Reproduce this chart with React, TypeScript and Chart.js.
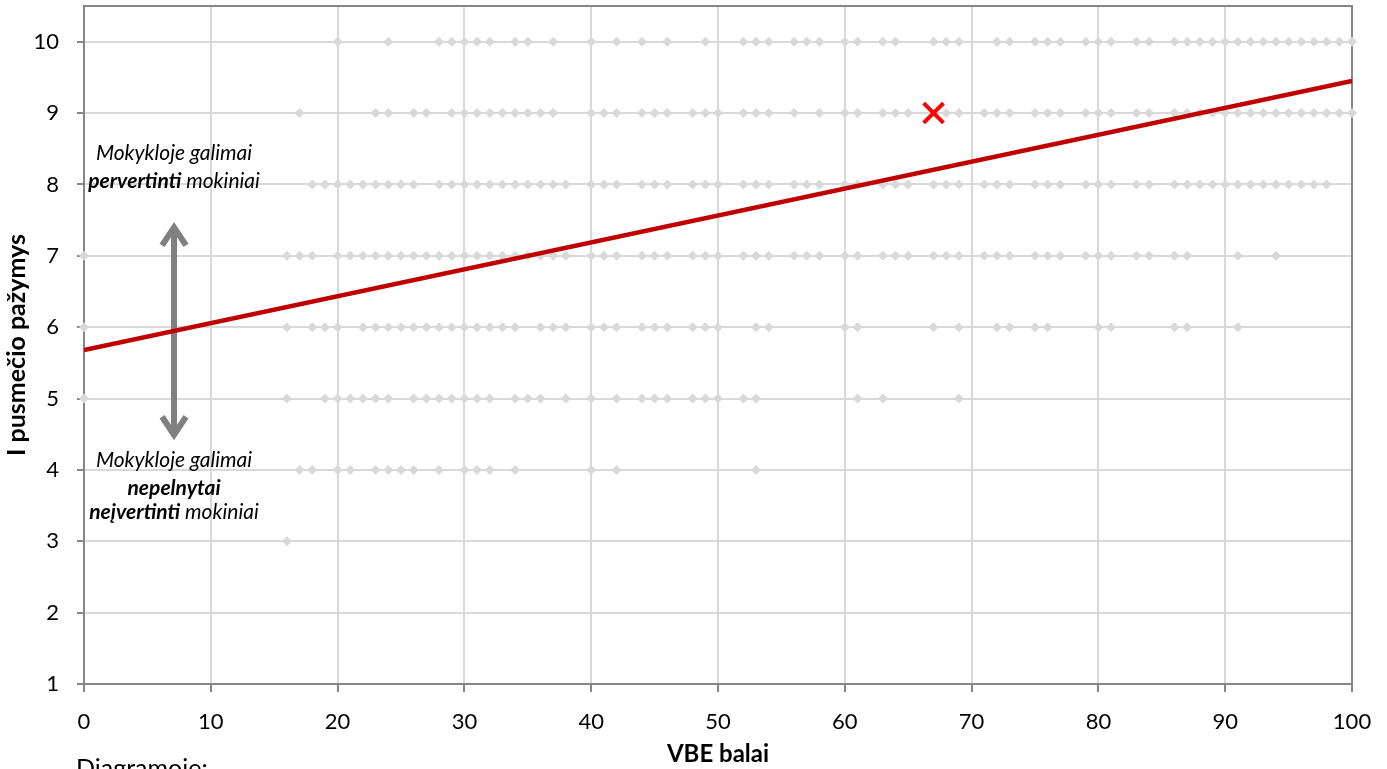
import { useEffect, useRef } from "react";
import { Chart, registerables } from "chart.js";

Chart.register(...registerables);

// ---- data ----
const xTickValues = [0, 10, 20, 30, 40, 50, 60, 70, 80, 90, 100];
const yTickValues = [1, 2, 3, 4, 5, 6, 7, 8, 9, 10];

const gradeLevels = [10, 9, 8, 7, 6, 5, 4, 3];
const scoresGrade10 = [20, 24, 28, 29, 30, 31, 32, 34, 35, 37, 40, 42, 44, 46, 49, 52, 53, 54, 56, 57, 58, 60, 61, 63, 64, 67, 68, 69, 72, 73, 75, 76, 77, 79, 80, 81, 83, 84, 86, 87, 88, 89, 90, 91, 92, 93, 94, 95, 96, 97, 98, 99, 100];
const scoresGrade9 = [17, 23, 24, 26, 27, 29, 30, 31, 32, 33, 34, 35, 36, 37, 40, 41, 42, 44, 45, 46, 48, 49, 50, 52, 53, 54, 56, 58, 60, 61, 63, 64, 65, 68, 69, 71, 72, 73, 75, 76, 77, 79, 80, 81, 83, 84, 86, 87, 88, 89, 90, 91, 92, 93, 94, 95, 96, 97, 98, 99, 100];
const scoresGrade8 = [18, 19, 20, 21, 22, 23, 24, 25, 26, 28, 29, 30, 31, 32, 33, 34, 35, 36, 37, 38, 40, 41, 42, 44, 45, 46, 48, 49, 50, 52, 53, 54, 56, 57, 58, 60, 61, 63, 64, 65, 67, 68, 69, 71, 72, 73, 75, 76, 77, 79, 80, 81, 83, 84, 86, 87, 88, 89, 90, 91, 92, 93, 94, 95, 96, 97, 98];
const scoresGrade7 = [0, 16, 17, 18, 20, 21, 22, 23, 24, 25, 26, 27, 28, 29, 30, 31, 32, 33, 34, 35, 36, 37, 38, 40, 41, 42, 44, 45, 46, 48, 49, 50, 52, 53, 54, 56, 57, 58, 60, 61, 63, 64, 65, 67, 68, 69, 71, 72, 73, 75, 76, 77, 79, 80, 81, 83, 84, 86, 87, 91, 94];
const scoresGrade6 = [0, 16, 18, 19, 20, 22, 23, 24, 25, 26, 27, 28, 29, 30, 31, 32, 33, 34, 36, 37, 38, 40, 41, 42, 44, 45, 46, 48, 49, 50, 53, 54, 60, 61, 67, 69, 72, 73, 75, 76, 80, 81, 86, 87, 91];
const scoresGrade5 = [0, 16, 19, 20, 21, 22, 23, 24, 26, 27, 28, 29, 30, 31, 32, 34, 35, 36, 38, 40, 42, 44, 45, 46, 48, 49, 50, 52, 53, 61, 63, 69];
const scoresGrade4 = [17, 18, 20, 21, 23, 24, 25, 26, 28, 30, 31, 32, 34, 40, 42, 53];
const scoresGrade3 = [16];
const scoresByGrade = [scoresGrade10, scoresGrade9, scoresGrade8, scoresGrade7, scoresGrade6, scoresGrade5, scoresGrade4, scoresGrade3];

const trendX = [0, 100];
const trendY = [5.68, 9.45];

const markedX = [67];
const markedY = [9];

const arrowX = [7.1];
const arrowEnds = [7.44, 4.45];

const noteX = [7.1];
const noteY = [8.43, 8.05, 4.14, 3.75, 3.4];
const noteLines: { text: string; bold: boolean }[][] = [
  [{ text: "Mokykloje galimai", bold: false }],
  [{ text: "pervertinti", bold: true }, { text: " mokiniai", bold: false }],
  [{ text: "Mokykloje galimai", bold: false }],
  [{ text: "nepelnytai", bold: true }],
  [{ text: "neįvertinti", bold: true }, { text: " mokiniai", bold: false }],
];

const xTitle = "VBE balai";
const yTitle = "I pusmečio pažymys";
const footerText = "Diagramoje:";

const FONT = "Lato";

export default function App() {
  const ref = useRef<HTMLCanvasElement | null>(null);

  useEffect(() => {
    document.body.style.margin = "0";
    const canvas = ref.current;
    if (!canvas) return;

    const points: { x: number; y: number }[] = [];
    gradeLevels.forEach((g, i) => {
      scoresByGrade[i].forEach((s) => points.push({ x: s, y: g }));
    });

    const annotations = {
      id: "annotations",
      beforeDatasetsDraw(chart: any) {
        const { ctx, scales, chartArea } = chart;
        ctx.save();
        // plot-area frame (top and right edges)
        ctx.strokeStyle = "#868686";
        ctx.lineWidth = 2;
        ctx.beginPath();
        ctx.moveTo(chartArea.left, chartArea.top);
        ctx.lineTo(chartArea.right, chartArea.top);
        ctx.lineTo(chartArea.right, chartArea.bottom);
        ctx.stroke();

        const x = scales.x.getPixelForValue(arrowX[0]);
        const yTop = scales.y.getPixelForValue(arrowEnds[0]);
        const yBot = scales.y.getPixelForValue(arrowEnds[1]);
        ctx.strokeStyle = "#808080";
        ctx.lineWidth = 6;
        ctx.lineCap = "butt";
        ctx.lineJoin = "miter";
        ctx.beginPath();
        ctx.moveTo(x, yTop + 3);
        ctx.lineTo(x, yBot - 3);
        ctx.stroke();
        ctx.beginPath();
        ctx.moveTo(x - 12, yTop + 21);
        ctx.lineTo(x, yTop + 3);
        ctx.lineTo(x + 12, yTop + 21);
        ctx.stroke();
        ctx.beginPath();
        ctx.moveTo(x - 12, yBot - 21);
        ctx.lineTo(x, yBot - 3);
        ctx.lineTo(x + 12, yBot - 21);
        ctx.stroke();
        ctx.restore();
      },
      afterDraw(chart: any) {
        const { ctx, scales } = chart;
        const cx = scales.x.getPixelForValue(noteX[0]);
        ctx.save();
        ctx.fillStyle = "#000";
        ctx.textBaseline = "middle";
        ctx.textAlign = "left";
        noteLines.forEach((parts, i) => {
          const y = scales.y.getPixelForValue(noteY[i]);
          const fonts = parts.map((p) => `italic ${p.bold ? "bold " : ""}21px ${FONT}`);
          let total = 0;
          const widths = parts.map((p, j) => {
            ctx.font = fonts[j];
            const w = ctx.measureText(p.text).width;
            total += w;
            return w;
          });
          let x = cx - total / 2;
          parts.forEach((p, j) => {
            ctx.font = fonts[j];
            ctx.fillText(p.text, x, y);
            x += widths[j];
          });
        });
        ctx.font = `25px ${FONT}`;
        ctx.textBaseline = "alphabetic";
        ctx.fillText(footerText, 76, 777);
        ctx.restore();
      },
    };

    const chart = new Chart(canvas, {
      type: "scatter",
      data: {
        datasets: [
          {
            data: markedX.map((x, i) => ({ x, y: markedY[i] })),
            pointStyle: "crossRot",
            pointRadius: 14,
            pointBorderWidth: 4,
            pointBorderColor: "#FF0000",
            pointBackgroundColor: "#FF0000",
            borderColor: "#FF0000",
            clip: false,
          } as any,
          {
            data: trendX.map((x, i) => ({ x, y: trendY[i] })),
            showLine: true,
            borderColor: "#C00000",
            borderWidth: 4.5,
            pointRadius: 0,
            fill: false,
          } as any,
          {
            data: points,
            pointStyle: "rectRot",
            pointRadius: 5,
            pointBorderWidth: 0,
            pointBackgroundColor: "#D9D9D9",
            borderColor: "#D9D9D9",
            clip: false,
          } as any,
        ],
      },
      options: {
        animation: false,
        responsive: false,
        events: [],
        layout: { autoPadding: false, padding: { left: 0, right: 35, top: 6, bottom: 0 } },
        plugins: { legend: { display: false }, tooltip: { enabled: false } },
        scales: {
          x: {
            type: "linear",
            min: 0,
            max: 100,
            afterBuildTicks: (s: any) => {
              s.ticks = xTickValues.map((v) => ({ value: v }));
            },
            afterFit: (s: any) => {
              s.height = 85;
              s.paddingLeft = 0;
              s.paddingRight = 0;
              s.paddingTop = 0;
              s.paddingBottom = 0;
            },
            ticks: {
              font: { family: FONT, size: 22 },
              color: "#000",
              padding: 17,
              maxRotation: 0,
              autoSkip: false,
            },
            grid: {
              color: (c: any) => (c.tick && c.tick.value === 100 ? "#868686" : "#D9D9D9"),
              lineWidth: 2,
              tickColor: "#868686",
              tickLength: 8,
            },
            border: { color: "#868686", width: 2 },
            title: {
              display: true,
              text: xTitle,
              font: { family: FONT, size: 24, weight: "bold" },
              color: "#000",
              padding: { top: 0, bottom: 0 },
            },
          },
          y: {
            type: "linear",
            min: 1,
            max: 10.5,
            afterBuildTicks: (s: any) => {
              s.ticks = yTickValues.map((v) => ({ value: v }));
            },
            afterFit: (s: any) => {
              s.width = 84;
              s.paddingLeft = 0;
              s.paddingRight = 0;
              s.paddingTop = 0;
              s.paddingBottom = 0;
            },
            ticks: {
              font: { family: FONT, size: 22 },
              color: "#000",
              padding: 18,
              autoSkip: false,
            },
            grid: {
              color: "#D9D9D9",
              lineWidth: 2,
              tickColor: "#868686",
              tickLength: 7,
            },
            border: { color: "#868686", width: 2 },
            title: {
              display: true,
              text: yTitle,
              font: { family: FONT, size: 25, weight: "bold" },
              color: "#000",
              padding: { top: 2, bottom: 0 },
            },
          },
        },
      },
      plugins: [annotations as any],
    });

    return () => chart.destroy();
  }, []);

  return <canvas ref={ref} width={1387} height={769} style={{ display: "block" }} />;
}
